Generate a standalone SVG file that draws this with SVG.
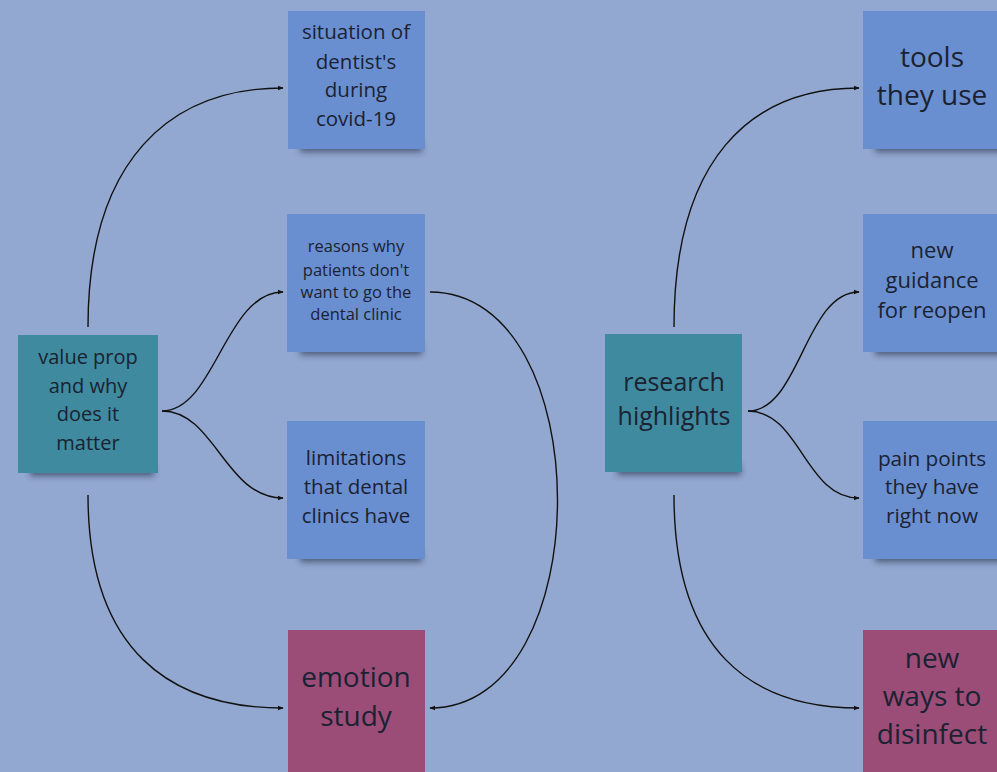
<svg xmlns="http://www.w3.org/2000/svg" width="997" height="772" viewBox="0 0 997 772">
  <style>
    .bg { fill: #93a8d0; }
    .blue { fill: #6a8fd0; }
    .teal { fill: #3f8a9e; }
    .pink { fill: #9b4d78; }
    .shadow { fill: #1e2840; opacity: 0.6; filter: url(#soft); }
    .label { font-family: "Open Sans", "Noto Sans", sans-serif; fill: #1a2232; text-anchor: middle; }
    .link { fill: none; stroke: #111111; stroke-width: 1.4; }
  </style>
  <defs>
    <filter id="soft" x="-20%" y="-100%" width="140%" height="300%">
      <feGaussianBlur stdDeviation="3"/>
    </filter>
    <marker id="arrow" viewBox="0 0 10 10" refX="9" refY="5" markerWidth="6" markerHeight="6" markerUnits="userSpaceOnUse" orient="auto">
      <path d="M0 1 L10 5 L0 9 Z" fill="#111111"/>
    </marker>
  </defs>

  <rect class="bg" x="0" y="0" width="997" height="772"/>

  <!-- connectors -->
  <g id="connectors">
    <path class="link" marker-end="url(#arrow)" d="M88 327 C88 160 170 88 283 88"/>
    <path class="link" marker-end="url(#arrow)" d="M162 411 C215 411 225 292 283 292"/>
    <path class="link" marker-end="url(#arrow)" d="M162 411 C215 411 225 498 283 498"/>
    <path class="link" marker-end="url(#arrow)" d="M88 495 C88 650 170 708 283 708"/>
    <path class="link" marker-end="url(#arrow)" d="M430 292 C600 292 600 708 430 708"/>
    <path class="link" marker-end="url(#arrow)" d="M674 327 C674 160 750 88 859 88"/>
    <path class="link" marker-end="url(#arrow)" d="M748 411 C800 411 805 292 859 292"/>
    <path class="link" marker-end="url(#arrow)" d="M748 411 C800 411 805 498 859 498"/>
    <path class="link" marker-end="url(#arrow)" d="M674 495 C674 650 750 708 859 708"/>
  </g>

  <!-- left cluster -->
  <g id="value-prop">
    <rect class="shadow" x="30" y="466" width="124" height="10"/>
    <rect class="teal" x="18" y="335" width="140" height="138"/>
    <text class="label" font-size="20"><tspan x="88" y="364">value prop</tspan><tspan x="88" y="393">and why</tspan><tspan x="88" y="421">does it</tspan><tspan x="88" y="450">matter</tspan></text>
  </g>

  <g id="situation">
    <rect class="shadow" x="300" y="142" width="122" height="10"/>
    <rect class="blue" x="288" y="11" width="137" height="138"/>
    <text class="label" font-size="20.5"><tspan x="356" y="39">situation of</tspan><tspan x="356" y="69">dentist's</tspan><tspan x="356" y="97">during</tspan><tspan x="356" y="126">covid-19</tspan></text>
  </g>

  <g id="reasons">
    <rect class="shadow" x="300" y="345" width="122" height="10"/>
    <rect class="blue" x="287" y="214" width="138" height="138"/>
    <text class="label" font-size="16.5"><tspan x="356" y="252">reasons why</tspan><tspan x="356" y="276">patients don't</tspan><tspan x="356" y="298">want to go the</tspan><tspan x="356" y="320">dental clinic</tspan></text>
  </g>

  <g id="limitations">
    <rect class="shadow" x="300" y="552" width="122" height="10"/>
    <rect class="blue" x="287" y="421" width="138" height="138"/>
    <text class="label" font-size="20.5"><tspan x="356" y="465">limitations</tspan><tspan x="356" y="494">that dental</tspan><tspan x="356" y="523">clinics have</tspan></text>
  </g>

  <g id="emotion-study">
    <rect class="pink" x="288" y="630" width="137" height="142"/>
    <text class="label" font-size="28"><tspan x="356" y="687">emotion</tspan><tspan x="356" y="726">study</tspan></text>
  </g>

  <!-- right cluster -->
  <g id="research">
    <rect class="shadow" x="617" y="465" width="124" height="10"/>
    <rect class="teal" x="605" y="334" width="137" height="138"/>
    <text class="label" font-size="25"><tspan x="674" y="391">research</tspan><tspan x="674" y="425">highlights</tspan></text>
  </g>

  <g id="tools">
    <rect class="shadow" x="875" y="142" width="130" height="10"/>
    <rect class="blue" x="863" y="11" width="140" height="138"/>
    <text class="label" font-size="28"><tspan x="932" y="67">tools</tspan><tspan x="932" y="105">they use</tspan></text>
  </g>

  <g id="guidance">
    <rect class="shadow" x="875" y="345" width="130" height="10"/>
    <rect class="blue" x="863" y="214" width="140" height="138"/>
    <text class="label" font-size="22"><tspan x="932" y="258">new</tspan><tspan x="932" y="288">guidance</tspan><tspan x="932" y="318">for reopen</tspan></text>
  </g>

  <g id="pain-points">
    <rect class="shadow" x="875" y="552" width="130" height="10"/>
    <rect class="blue" x="863" y="421" width="140" height="138"/>
    <text class="label" font-size="20.8"><tspan x="932" y="466">pain points</tspan><tspan x="932" y="494">they have</tspan><tspan x="932" y="523">right now</tspan></text>
  </g>

  <g id="disinfect">
    <rect class="pink" x="863" y="630" width="140" height="142"/>
    <text class="label" font-size="28"><tspan x="932" y="668">new</tspan><tspan x="932" y="706">ways to</tspan><tspan x="932" y="744">disinfect</tspan></text>
  </g>
</svg>
